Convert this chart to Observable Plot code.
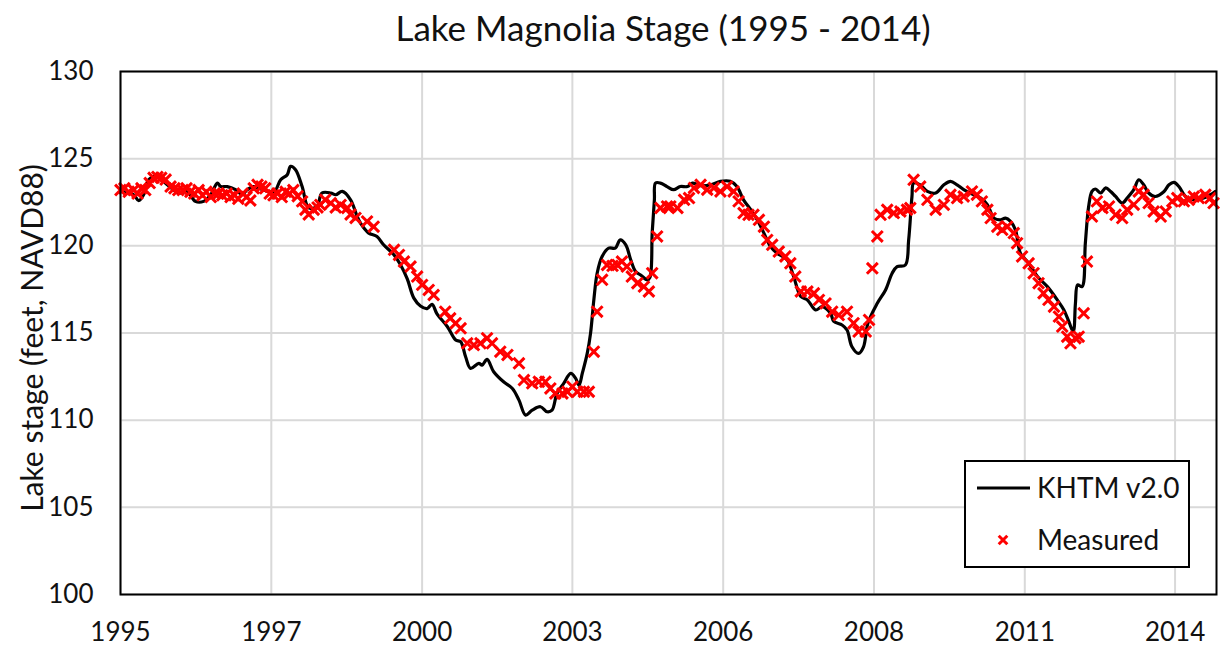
<!DOCTYPE html>
<html><head><meta charset="utf-8">
<script src="https://cdn.jsdelivr.net/npm/d3@7"></script>
<script src="https://cdn.jsdelivr.net/npm/@observablehq/plot@0.6"></script>
<style>
body{margin:0;background:#fff;}
#wrap{position:relative;width:1224px;height:647px;font-family:Lato,sans-serif;color:#111;overflow:hidden;}
#title{position:absolute;left:663px;top:7px;transform:translateX(-50%);white-space:nowrap;font-size:35px;line-height:40px;}
#ylab{position:absolute;left:31px;top:338px;transform:translate(-50%,-50%) rotate(-90deg);white-space:nowrap;font-size:30px;line-height:34px;}
#legend{position:absolute;left:964px;top:460px;}
</style></head><body>
<div id="wrap"><div id="chart"></div><div id="title"></div><div id="ylab"></div><div id="legend"></div></div>
<script>
const titleText = "Lake Magnolia Stage (1995 - 2014)";
const yLabelText = "Lake stage (feet, NAVD88)";
const seriesNames = ["KHTM v2.0", "Measured"];
const xTickValues = [1995, 1997.74, 2000.48, 2003.21, 2005.95, 2008.69, 2011.43, 2014.16];
const xTickLabels = ["1995", "1997", "2000", "2003", "2006", "2008", "2011", "2014"];
const yTicks = [100, 105, 110, 115, 120, 125, 130];

const modelYear = [1995.00,1995.24,1995.33,1995.42,1995.51,1995.67,1995.85,1996.06,1996.21,1996.36,
1996.51,1996.64,1996.76,1996.82,1996.94,1997.09,1997.21,1997.30,1997.42,1997.60,
1997.79,1997.91,1998.03,1998.09,1998.18,1998.30,1998.42,1998.57,1998.66,1998.82,
1998.91,1999.03,1999.18,1999.30,1999.36,1999.51,1999.66,1999.78,1999.97,2000.09,
2000.21,2000.33,2000.45,2000.57,2000.66,2000.75,2000.94,2001.09,2001.18,2001.27,
2001.36,2001.51,2001.57,2001.66,2001.78,2001.96,2002.12,2002.24,2002.36,2002.48,
2002.63,2002.75,2002.84,2002.93,2003.05,2003.18,2003.27,2003.33,2003.39,2003.48,
2003.54,2003.60,2003.66,2003.75,2003.87,2003.99,2004.08,2004.18,2004.27,2004.36,
2004.45,2004.57,2004.62,2004.66,2004.70,2004.72,2004.81,2004.93,2005.05,2005.17,
2005.30,2005.39,2005.54,2005.72,2005.90,2006.08,2006.20,2006.32,2006.45,2006.57,
2006.69,2006.81,2006.93,2007.11,2007.23,2007.36,2007.48,2007.63,2007.75,2007.90,
2007.96,2008.11,2008.20,2008.29,2008.41,2008.50,2008.58,2008.75,2008.90,2009.02,
2009.11,2009.26,2009.32,2009.38,2009.41,2009.53,2009.66,2009.81,2009.96,2010.08,
2010.20,2010.32,2010.50,2010.63,2010.75,2010.87,2010.99,2011.08,2011.17,2011.26,
2011.35,2011.50,2011.66,2011.84,2012.02,2012.14,2012.23,2012.31,2012.35,2012.39,
2012.47,2012.53,2012.59,2012.65,2012.71,2012.81,2012.90,2012.99,2013.08,2013.20,
2013.29,2013.41,2013.50,2013.59,2013.68,2013.80,2013.96,2014.05,2014.14,2014.23,
2014.35,2014.50,2014.68,2014.80,2014.89];
const modelStage = [123.12,122.93,122.59,122.93,123.79,123.98,123.5,123.03,123.12,122.55,
122.55,122.93,123.6,123.4,123.4,123.22,122.93,123.22,123.4,123.2,
123.1,123.79,124.08,124.56,124.37,123.4,122.17,122.26,123.03,123.03,
122.93,123.12,122.64,121.68,121.3,120.73,120.54,120.06,119.48,118.9,
118.1,117.0,116.55,116.4,116.65,116.1,115.36,114.6,114.5,113.64,
112.97,113.26,113.16,113.49,112.78,112.2,111.82,111.15,110.29,110.57,
110.77,110.48,110.57,111.53,112.1,112.68,112.4,112.0,112.68,113.83,
114.98,116.9,118.43,119.39,119.87,119.87,120.34,120.06,119.2,118.52,
118.33,118.05,118.2,120.73,122.64,123.6,123.6,123.4,123.22,123.4,
123.4,123.6,123.45,123.5,123.7,123.7,123.4,122.64,122.07,121.49,
120.73,119.96,119.58,119.2,118.24,117.09,116.9,116.32,116.51,116.13,
115.66,115.46,115.17,114.21,113.83,114.21,115.56,116.7,117.47,118.43,
118.81,118.9,120.34,122.83,123.6,123.5,123.12,123.03,123.5,123.7,
123.5,123.22,122.93,122.74,122.36,121.59,121.49,121.59,121.4,120.92,
119.58,119.0,118.24,117.66,116.9,116.32,115.66,115.08,116.7,117.76,
117.66,120.15,122.26,123.12,123.26,123.03,123.32,123.12,122.83,122.45,
122.74,123.22,123.79,123.5,123.03,122.83,123.12,123.5,123.64,123.4,
122.83,122.64,122.74,122.93,123.12];

const measuredYear = [1995.00,1995.07,1995.15,1995.24,1995.31,1995.38,1995.45,1995.53,1995.60,1995.67,
1995.74,1995.82,1995.91,1995.98,1996.05,1996.13,1996.20,1996.27,1996.34,1996.42,
1996.49,1996.56,1996.64,1996.71,1996.78,1996.85,1996.93,1997.00,1997.07,1997.14,
1997.22,1997.29,1997.36,1997.42,1997.49,1997.56,1997.63,1997.71,1997.78,1997.85,
1997.93,1998.00,1998.07,1998.14,1998.22,1998.30,1998.36,1998.42,1998.51,1998.58,
1998.63,1998.72,1998.82,1998.91,1999.00,1999.12,1999.18,1999.27,1999.48,1999.60,
1999.97,2000.06,2000.15,2000.27,2000.39,2000.48,2000.60,2000.69,2000.90,2000.99,
2001.09,2001.18,2001.30,2001.42,2001.54,2001.66,2001.75,2001.90,2002.03,2002.24,
2002.33,2002.48,2002.60,2002.72,2002.81,2002.90,2003.03,2003.12,2003.21,2003.30,
2003.42,2003.51,2003.60,2003.66,2003.75,2003.84,2003.94,2004.03,2004.11,2004.20,
2004.29,2004.39,2004.51,2004.60,2004.66,2004.75,2004.81,2004.93,2004.99,2005.12,
2005.24,2005.33,2005.42,2005.54,2005.66,2005.78,2005.90,2006.02,2006.14,2006.23,
2006.32,2006.41,2006.50,2006.60,2006.69,2006.75,2006.84,2006.96,2007.08,2007.17,
2007.26,2007.36,2007.48,2007.60,2007.69,2007.81,2007.93,2008.05,2008.20,2008.32,
2008.41,2008.54,2008.60,2008.66,2008.75,2008.81,2008.93,2009.05,2009.17,2009.29,
2009.35,2009.41,2009.53,2009.66,2009.81,2009.96,2010.08,2010.20,2010.32,2010.47,
2010.56,2010.65,2010.75,2010.81,2010.93,2011.02,2011.11,2011.23,2011.29,2011.38,
2011.50,2011.59,2011.68,2011.77,2011.86,2011.96,2012.05,2012.11,2012.20,2012.26,
2012.35,2012.41,2012.50,2012.56,2012.65,2012.74,2012.84,2012.96,2013.08,2013.20,
2013.29,2013.41,2013.50,2013.59,2013.68,2013.77,2013.90,2013.99,2014.11,2014.20,
2014.32,2014.41,2014.50,2014.59,2014.71,2014.80,2014.86];
const measuredStage = [123.2,123.3,123.1,123.2,123.0,123.3,123.2,123.6,123.9,123.95,
123.9,123.8,123.4,123.3,123.2,123.2,123.3,123.1,123.0,123.2,
122.9,123.1,122.8,123.0,123.0,122.9,123.0,122.8,122.9,122.7,
123.0,122.8,122.6,123.3,123.5,123.4,123.3,123.0,122.9,123.0,
122.8,123.1,123.0,123.2,122.85,122.55,122.07,121.8,122.07,122.2,
122.35,122.64,122.45,122.2,122.35,122.17,121.8,121.6,121.4,121.1,
119.77,119.48,119.1,118.81,118.24,117.76,117.47,117.18,116.22,115.84,
115.56,115.27,114.41,114.31,114.41,114.7,114.41,113.93,113.74,113.26,
112.3,112.11,112.2,112.2,111.82,111.53,111.53,111.63,111.92,111.63,
111.63,111.63,113.93,116.22,118.05,118.9,118.85,118.9,119.1,118.81,
118.24,117.86,117.66,117.38,118.43,120.54,122.17,122.26,122.26,122.17,
122.64,122.74,123.32,123.5,123.22,123.32,123.12,123.4,123.12,122.55,
121.88,121.78,121.78,121.49,121.1,120.34,120.06,119.67,119.39,119.0,
118.24,117.38,117.38,117.28,116.9,116.7,116.22,116.03,116.22,115.56,
115.08,115.08,115.75,118.71,120.54,121.78,122.07,121.88,121.97,122.07,
122.17,123.79,123.4,122.64,122.07,122.35,122.93,122.74,122.83,123.12,
122.93,122.55,122.07,121.59,121.1,120.92,121.1,120.73,120.15,119.39,
119.0,118.43,117.86,117.28,116.9,116.51,115.94,115.37,114.79,114.41,
114.7,114.79,116.13,119.1,121.68,122.55,122.17,122.26,121.78,121.59,
122.07,122.36,123.12,122.93,122.45,121.97,121.68,121.97,122.55,122.74,
122.55,122.64,122.83,122.74,122.93,122.74,122.45];

const model = modelYear.map((x, i) => ({x, y: modelStage[i]})).filter(d => d.y != null);
const measured = measuredYear.map((x, i) => ({x, y: measuredStage[i]})).filter(d => d.y != null);

const lineColor = "#000000";
const markColor = "#ff0000";
const gridColor = "#d9d9d9";
const markR = 5;
const markStroke = 3;

const chart = Plot.plot({
  width: 1224,
  height: 647,
  marginLeft: 120,
  marginRight: 8,
  marginTop: 71,
  marginBottom: 53,
  style: {fontFamily: "Lato, sans-serif", fontSize: "26px", color: "#111", background: "transparent"},
  x: {domain: [1995, 2014.913]},
  y: {domain: [100, 130]},
  marks: [
    Plot.gridX({ticks: xTickValues, stroke: gridColor, strokeOpacity: 1, strokeWidth: 2}),
    Plot.gridY({ticks: yTicks, stroke: gridColor, strokeOpacity: 1, strokeWidth: 2}),
    Plot.axisX({ticks: xTickValues, tickFormat: d => xTickLabels[xTickValues.indexOf(d)], tickSize: 0, tickPadding: 28, label: null}),
    Plot.axisY({ticks: yTicks, tickSize: 0, tickPadding: 27, label: null}),
    Plot.line(model, {x: "x", y: "y", stroke: lineColor, strokeWidth: 3.2, curve: "catmull-rom"}),
    Plot.dot(measured, {x: "x", y: "y", symbol: "times", r: markR, stroke: markColor, strokeWidth: markStroke}),
    Plot.frame({stroke: "#000", strokeWidth: 2})
  ]
});
document.getElementById("chart").appendChild(chart);
document.getElementById("title").textContent = titleText;
document.getElementById("ylab").textContent = yLabelText;

// legend
const lg = d3.select("#legend").append("svg").attr("width", 228).attr("height", 110);
lg.append("rect").attr("x", 1).attr("y", 1).attr("width", 224).attr("height", 106)
  .attr("fill", "#fff").attr("stroke", "#000").attr("stroke-width", 2);
lg.append("line").attr("x1", 13).attr("x2", 66).attr("y1", 28).attr("y2", 28)
  .attr("stroke", lineColor).attr("stroke-width", 3.2);
lg.append("path").attr("d", d3.symbol(d3.symbolTimes, Math.PI * 4 * 4)())
  .attr("transform", "translate(39,80)").attr("fill", "none").attr("stroke", markColor).attr("stroke-width", markStroke);
lg.selectAll("text.t").data(seriesNames).join("text")
  .attr("x", 73).attr("y", (d, i) => i === 0 ? 28 : 80)
  .attr("dy", "0.35em").attr("font-family", "Lato, sans-serif").attr("font-size", 28).attr("fill", "#111")
  .text(d => d);
</script></body></html>
